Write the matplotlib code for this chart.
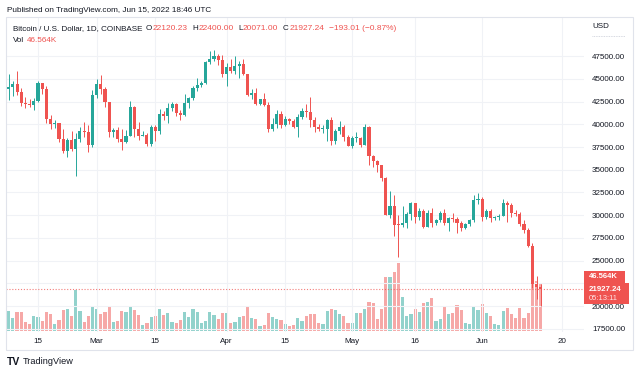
import matplotlib
matplotlib.use("Agg")
import matplotlib.pyplot as plt
import matplotlib.dates as mdates
from matplotlib.patches import Rectangle
import numpy as np
import pandas as pd

plt.rcParams['font.family'] = ['Liberation Sans', 'DejaVu Sans']

# ---------------- data ----------------
start_date = "2022-02-08"
end_date = "2022-06-15"

opens = [
    43840, 44090, 44380, 43550, 42380, 42200, 42070, 42540, 44580, 43890, 40540, 40000, 40100, 38400,
    37030, 38250, 37270, 38340, 39220, 39120, 37700,
    43190, 44420, 43920, 42450, 39150, 39400, 38420, 38060, 38740, 41950, 39430, 38730, 38810, 37780,
    39670, 39280, 41110, 40920, 41770, 42210, 41260, 41000, 42360, 42890, 43960, 44340, 44520, 46840,
    47130, 47450, 47070,
    45530, 46280, 45830, 46420, 46620, 45520, 43170, 43450, 42260, 42760, 42160, 39530, 40080, 41150,
    39940, 40560, 40390, 39700, 40800, 41500, 41370, 40480, 39710, 39470, 39530, 40430, 38120, 39240,
    39740, 38600,
    37640, 38470, 38530, 37720, 39690, 36550, 36010, 35470, 34060, 30080, 31020, 28940, 28900, 29200,
    30100, 31330, 29850, 30420, 28690, 30300, 29180, 29430, 30270, 29100, 29650, 29540, 29190, 28620,
    29020, 29450, 31720,
    31800, 29800, 30460, 29700, 29860, 29910, 31370, 31130, 30200, 30100, 29080, 28420, 26570, 22480,
    22120.23,
]
highs = [
    45490, 44800, 45850, 43950, 43000, 42740, 42860, 44750, 44580, 44190, 40970, 40460, 40140, 39500,
    38450, 39250, 39000, 39700, 40300, 39870, 43750,
    44950, 45400, 44100, 42500, 39600, 39700, 39500, 39400, 42600, 42000, 40250, 39300, 39000, 39950,
    39900, 41700, 41460, 42320, 42400, 42300, 41550, 43350, 42960, 44200, 45100, 44800, 46930, 48100,
    48160, 47700, 47600,
    46700, 47200, 47450, 46900, 47200, 45520, 43900, 43970, 42800, 43420, 42420, 40700, 41550, 41500,
    40870, 40700, 40600, 41080, 41760, 42200, 42980, 40800, 39990, 39940, 40620, 40800, 39450, 40380,
    39920, 38800,
    38680, 39170, 38650, 40020, 39840, 36660, 36120, 35500, 34250, 32650, 32200, 30050, 31000, 30330,
    31450, 31330, 30780, 30700, 30550, 30750, 29600, 30450, 30650, 29820, 30200, 29850, 29380, 29200,
    29580, 32200, 32400,
    31980, 30650, 30670, 29940, 30150, 31750, 31550, 31320, 30630, 30360, 29450, 28560, 26900, 23300,
    22400.00,
]
lows = [
    42680, 43130, 43200, 42000, 41750, 41860, 41570, 42440, 43310, 40100, 39450, 39640, 38000, 36800,
    36350, 37050, 34320, 38000, 38600, 37000, 37460,
    42850, 43350, 41850, 38600, 38600, 38100, 37150, 37900, 38700, 38550, 38250, 38660, 37580, 37580,
    38120, 38900, 40520, 40160, 41500, 40900, 40500, 40880, 41760, 42650, 43600, 44080, 44420, 46650,
    46950, 46540, 45200,
    44200, 45650, 45550, 45100, 45360, 43100, 42750, 42100, 42130, 42000, 39200, 39250, 39580, 39570,
    39780, 40020, 39550, 38550, 40570, 40850, 39750, 39180, 39300, 39000, 38200, 37700, 37880, 38880,
    38180, 37600,
    37390, 38050, 37520, 37670, 35570, 35270, 34760, 33710, 30000, 29750, 27700, 25400, 28700, 28600,
    29500, 29100, 29450, 28650, 28700, 28750, 28950, 29250, 28900, 28300, 29300, 28000, 28250, 28500,
    28800, 29300, 31200,
    29320, 29580, 29300, 29460, 29500, 29880, 29220, 29850, 29920, 28850, 28100, 26560, 22000, 20800,
    20071.00,
]
closes = [
    44090, 44380, 43550, 42380, 42200, 42070, 42540, 44580, 43890, 40540, 40000, 40100, 38400, 37030,
    38250, 37270, 38340, 39220, 39120, 37700, 43190,
    44420, 43920, 42450, 39150, 39400, 38420, 38060, 38740, 41950, 39430, 38730, 38810, 37780, 39670,
    39280, 41110, 40920, 41770, 42210, 41260, 41000, 42360, 42890, 43960, 44340, 44520, 46840, 47130,
    47450, 47070, 45530,
    46280, 45830, 46420, 46620, 45520, 43170, 43450, 42260, 42760, 42160, 39530, 40080, 41150, 39940,
    40560, 40390, 39700, 40800, 41500, 41370, 40480, 39710, 39470, 39530, 40430, 38120, 39240, 39740,
    38600, 37640,
    38470, 38530, 37720, 39690, 36550, 36010, 35470, 34060, 30080, 31020, 28940, 28900, 29200, 30100,
    31330, 29850, 30420, 28690, 30300, 29180, 29430, 30270, 29100, 29650, 29540, 29190, 28620, 29020,
    29450, 31720, 31800,
    29800, 30460, 29700, 29860, 29910, 31370, 31130, 30200, 30100, 29080, 28420, 26570, 22480, 22130,
    21927.24,
]
# volume in thousands of BTC
volumes = [
    20, 13, 19.3, 19.3, 9, 7, 14.7, 14, 10, 18.7, 16.7, 7, 11, 21, 22, 15.3, 41, 20, 9, 14.7, 25,
    22, 17.3, 19, 23.7, 9, 10.3, 19.7, 18.7, 24, 20.7, 15.7, 6.3, 8.3, 13.7, 14.7, 22, 15.7, 17.7,
    9, 7.7, 11, 19.3, 13.7, 21.7, 19, 7.7, 10.3, 19, 16, 12.3, 17.7,
    18.3, 8.3, 9.3, 14, 15, 24, 13, 12, 5.3, 6, 17.7, 14, 12, 11, 7, 5, 5.7, 13, 10.3, 14.7, 17.3,
    16.7, 8, 7, 20, 21.7, 20.7, 17, 14.7, 7.7,
    8.3, 18.3, 18.3, 21.7, 28.7, 28, 12, 22.3, 53.7, 54.3, 59.3, 68.3, 34, 15.3, 16.7, 22, 19.3,
    28, 28.7, 33.3, 10.3, 11.7, 25, 16.7, 17.7, 26, 20.7, 8.3, 7, 24.3, 21,
    26.7, 18.3, 15.3, 7, 6.3, 20.3, 23, 16.7, 13.3, 22.7, 13, 18.3, 62, 50, 46.564,
]

tick_dates = ["2022-02-15", "2022-03-01", "2022-03-15", "2022-04-01", "2022-04-15",
              "2022-05-01", "2022-05-16", "2022-06-01", "2022-06-20"]
tick_labels = ["15", "Mar", "15", "Apr", "15", "May", "16", "Jun", "20"]
price_ticks = [17500, 20000, 22500, 25000, 27500, 30000, 32500, 35000,
               37500, 40000, 42500, 45000, 47500]
hidden_price_labels = [22500]  # covered by the last-value labels

last_price = 21927.24
last_volume_label = "46.564K"
countdown = "05:13:11"
legend_title = "Bitcoin / U.S. Dollar, 1D, COINBASE"
ohlc_letters = ["O", "H", "L", "C"]
ohlc_values = ["22120.23", "22400.00", "20071.00", "21927.24"]
change_text = "\u2212193.01 (\u22120.87%)"

# ---------------- style ----------------
UP = "#26a69a"
DOWN = "#ef5350"
TXT = "#131722"
GRID = "#f0f2f6"

W, H = 640, 375
fig = plt.figure(figsize=(6.4, 3.75), dpi=100)
fig.patch.set_facecolor("white")


def fx(px):
    return px / W


def fy(py):
    return 1 - py / H


dates = pd.date_range(start_date, end_date, freq="D")
x = mdates.date2num(dates.to_pydatetime())
o = np.array(opens, float)
h = np.array(highs, float)
l = np.array(lows, float)
c = np.array(closes, float)
v = np.array(volumes, float)
up = c >= o
cols = np.where(up, UP, DOWN)

ref = mdates.date2num(pd.Timestamp("2022-02-15").to_pydatetime())
xlim = (ref - 7.64, ref + 130.31)

plot_left, plot_right, plot_top, plot_bot = 6, 584, 17, 332
rect = [fx(plot_left), fy(plot_bot), fx(plot_right - plot_left), (plot_bot - plot_top) / H]

# volume axes (below)
axv = fig.add_axes(rect)
axv.set_xlim(*xlim)
axv.set_ylim(-1, 314)
axv.bar(x, v, width=0.76, color=cols, alpha=0.5, linewidth=0)
axv.axis("off")

# price axes (on top)
ax = fig.add_axes(rect)
ax.set_facecolor("none")
ax.set_xlim(*xlim)
ax.set_ylim(17170, 51786)
ax.set_axisbelow(True)

ax.vlines(x, l, h, colors=cols, linewidth=0.7, zorder=2)
body_bottom = np.minimum(o, c)
body_h = np.maximum(np.abs(c - o), 110)
ax.bar(x, body_h, bottom=body_bottom, width=0.74, color=cols, linewidth=0, zorder=3)

ax.axhline(last_price, color=DOWN, linestyle=(0, (1, 1.6)), linewidth=0.8, alpha=0.75, zorder=1)

tick_x = mdates.date2num(pd.to_datetime(tick_dates).to_pydatetime())
ax.set_xticks(tick_x)
ax.set_xticklabels(tick_labels)
ax.set_yticks(price_ticks)
ax.set_yticklabels(["" if p in hidden_price_labels else f"{p:.2f}" for p in price_ticks])
ax.yaxis.tick_right()
ax.tick_params(axis="both", length=0, labelsize=5.8, labelcolor=TXT)
ax.tick_params(axis="x", pad=4.5)
ax.tick_params(axis="y", pad=5.8)
ax.grid(True, color=GRID, linewidth=0.8)
for s in ax.spines.values():
    s.set_visible(False)

# outer frame
fig.add_artist(Rectangle((fx(6), fy(350)), fx(627), 333 / H, transform=fig.transFigure,
                         fill=False, edgecolor="#e0e3eb", linewidth=0.8))

# header
fig.text(fx(7), fy(10), "Published on TradingView.com, Jun 15, 2022 18:46 UTC",
         fontsize=5.9, color=TXT, va="center", ha="left")

fig.canvas.draw()
renderer = fig.canvas.get_renderer()

# legend line (pieces chained by measured width)
pieces = [(legend_title, TXT, 5.8, 3.5)]
for let, val in zip(ohlc_letters, ohlc_values):
    pieces.append((let, TXT, 5.8, 0.6))
    pieces.append((val, DOWN, 6.0, 4.5))
pieces[-1] = (pieces[-1][0], DOWN, 6.0, 5.0)
pieces.append((change_text, DOWN, 6.0, 0))
xp = 12.7
for s, col, fs, gap in pieces:
    t = fig.text(fx(xp), fy(29), s, fontsize=fs, color=col, va="center", ha="left")
    bb = t.get_window_extent(renderer=renderer)
    xp = bb.x1 + gap

t = fig.text(fx(12.7), fy(41), "Vol", fontsize=5.8, color=TXT, va="center", ha="left")
bb = t.get_window_extent(renderer=renderer)
fig.text(fx(bb.x1 + 3), fy(41), last_volume_label, fontsize=5.9, color=DOWN, va="center", ha="left")

# price scale header
fig.text(fx(592), fy(27), "USD", fontsize=5.8, color=TXT, va="center", ha="left")
fig.add_artist(plt.Line2D([fx(592), fx(625)], [fy(36), fy(36)], transform=fig.transFigure,
                          color="#c8ccd6", linewidth=0.6, linestyle=(0, (1, 1))))

# last value labels
fig.add_artist(Rectangle((fx(584), fy(283)), fx(41), 12 / H, transform=fig.transFigure,
                         facecolor=DOWN, edgecolor="none"))
fig.text(fx(589), fy(276.8), last_volume_label, fontsize=5.5, color="white", fontweight="bold",
         va="center", ha="left")
fig.add_artist(Rectangle((fx(584), fy(304)), fx(45), 21 / H, transform=fig.transFigure,
                         facecolor=DOWN, edgecolor="none"))
fig.text(fx(589), fy(289.6), f"{last_price:.2f}", fontsize=5.7, color="white", fontweight="bold",
         va="center", ha="left")
fig.text(fx(589), fy(298.6), countdown, fontsize=5.5, color="#fde3e3",
         va="center", ha="left")

# footer logo
fig.text(fx(7), fy(362), "TV", fontsize=7.5, color=TXT, fontweight="bold", va="center", ha="left")
fig.text(fx(23), fy(362), "TradingView", fontsize=6.6, color=TXT, va="center", ha="left")

fig.savefig("out.png", dpi=100, facecolor="white")
